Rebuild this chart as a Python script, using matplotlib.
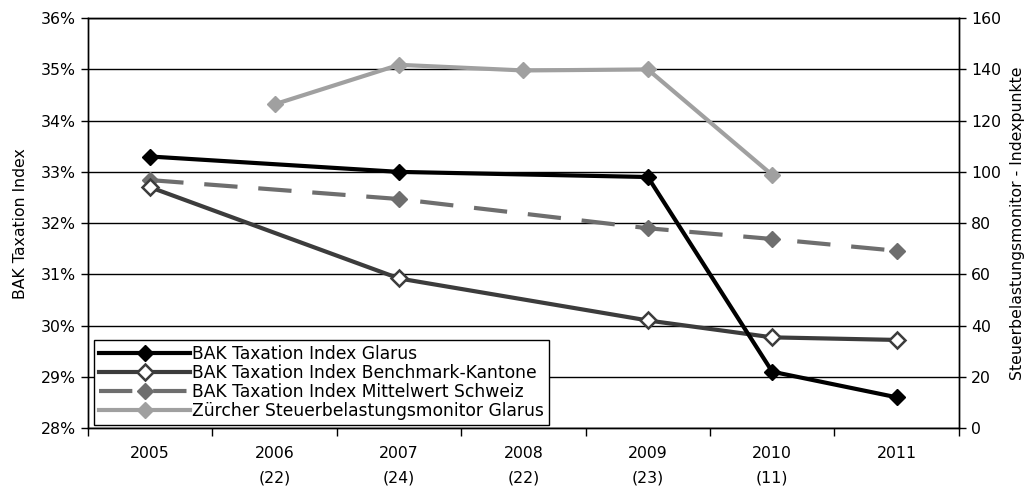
import numpy as np
import matplotlib
matplotlib.use("Agg")
from matplotlib import pyplot as plt
from matplotlib.ticker import FixedLocator, FuncFormatter

# categories (x axis)
years = ["2005", "2006\n(22)", "2007\n(24)", "2008\n(22)", "2009\n(23)", "2010\n(11)", "2011"]

# left axis series, in percent (nan = no value for that year)
glarus = [33.3, np.nan, 33.0, np.nan, 32.9, 29.1, 28.6]
benchmark = [32.7, np.nan, 30.92, np.nan, 30.1, 29.77, 29.72]
mittelwert = [32.84, np.nan, 32.47, np.nan, 31.9, 31.69, 31.46]

# right axis series, index points
zuercher = [np.nan, 126.4, 141.8, 139.6, 140.0, 98.8, np.nan]

names = ["BAK Taxation Index Glarus",
         "BAK Taxation Index Benchmark-Kantone",
         "BAK Taxation Index Mittelwert Schweiz",
         "Zürcher Steuerbelastungsmonitor Glarus"]

plt.rcParams['font.family'] = ['DejaVu Sans']
plt.rcParams['font.size'] = 11.3

fig = plt.figure(figsize=(10.31, 4.92), dpi=100)
ax = fig.add_axes([0.0854, 0.130, 0.8446, 0.833])
ax2 = ax.twinx()

x = np.arange(len(years))


def valid(vals):
    v = np.array(vals, dtype=float)
    m = ~np.isnan(v)
    return x[m], v[m]


xs, ys = valid(mittelwert)
l3, = ax.plot(xs, ys, color='#6e6e6e', lw=3, dashes=(8, 5), marker='D',
              ms=8, mfc='#6e6e6e', mec='#6e6e6e', zorder=3)
xs, ys = valid(benchmark)
l2, = ax.plot(xs, ys, color='#3c3c3c', lw=3, marker='D', ms=8,
              mfc='white', mec='#3c3c3c', mew=1.8, zorder=4)
xs, ys = valid(glarus)
l1, = ax.plot(xs, ys, color='#000000', lw=3, marker='D', ms=8,
              mfc='black', mec='black', zorder=5)
xs, ys = valid(zuercher)
l4, = ax2.plot(xs, ys, color='#a0a0a0', lw=3, marker='D', ms=8,
               mfc='#a0a0a0', mec='#a0a0a0', zorder=3)

ax.set_xlim(-0.5, len(years) - 0.5)
ax.set_ylim(28, 36)
ax2.set_ylim(0, 160)

ax.set_yticks(np.arange(28, 37, 1))
ax.yaxis.set_major_formatter(FuncFormatter(lambda v, p: "%d%%" % v))
ax2.set_yticks(np.arange(0, 161, 20))

ax.set_xticks(x)
ax.set_xticklabels(years, linespacing=1.75)
ax.xaxis.set_minor_locator(FixedLocator(np.arange(-0.5, len(years), 1)))
ax.tick_params(axis='x', which='major', length=0, pad=13)
ax.tick_params(axis='x', which='minor', length=6, direction='out', width=1)
ax.tick_params(axis='y', length=5, direction='out', width=1, pad=4)
ax2.tick_params(axis='y', length=5, direction='out', width=1, pad=4)

ax.grid(axis='y', color='black', lw=1)
ax.set_axisbelow(True)

for a in (ax, ax2):
    for s in a.spines.values():
        s.set_color('black')
        s.set_linewidth(1)

ax.set_ylabel("BAK Taxation Index", labelpad=9)
ax2.set_ylabel("Steuerbelastungsmonitor - Indexpunkte", labelpad=6)

leg = ax2.legend([l1, l2, l3, l4], names, loc='lower left',
                 bbox_to_anchor=(0.007, 0.007), frameon=True, fancybox=False,
                 edgecolor='black', framealpha=1, handlelength=5.3,
                 handletextpad=0.1, labelspacing=0.06, borderpad=0.3,
                 borderaxespad=0, fontsize=12.3)
leg.get_frame().set_linewidth(1)
leg.set_zorder(10)

fig.savefig("out.png", dpi=100)
